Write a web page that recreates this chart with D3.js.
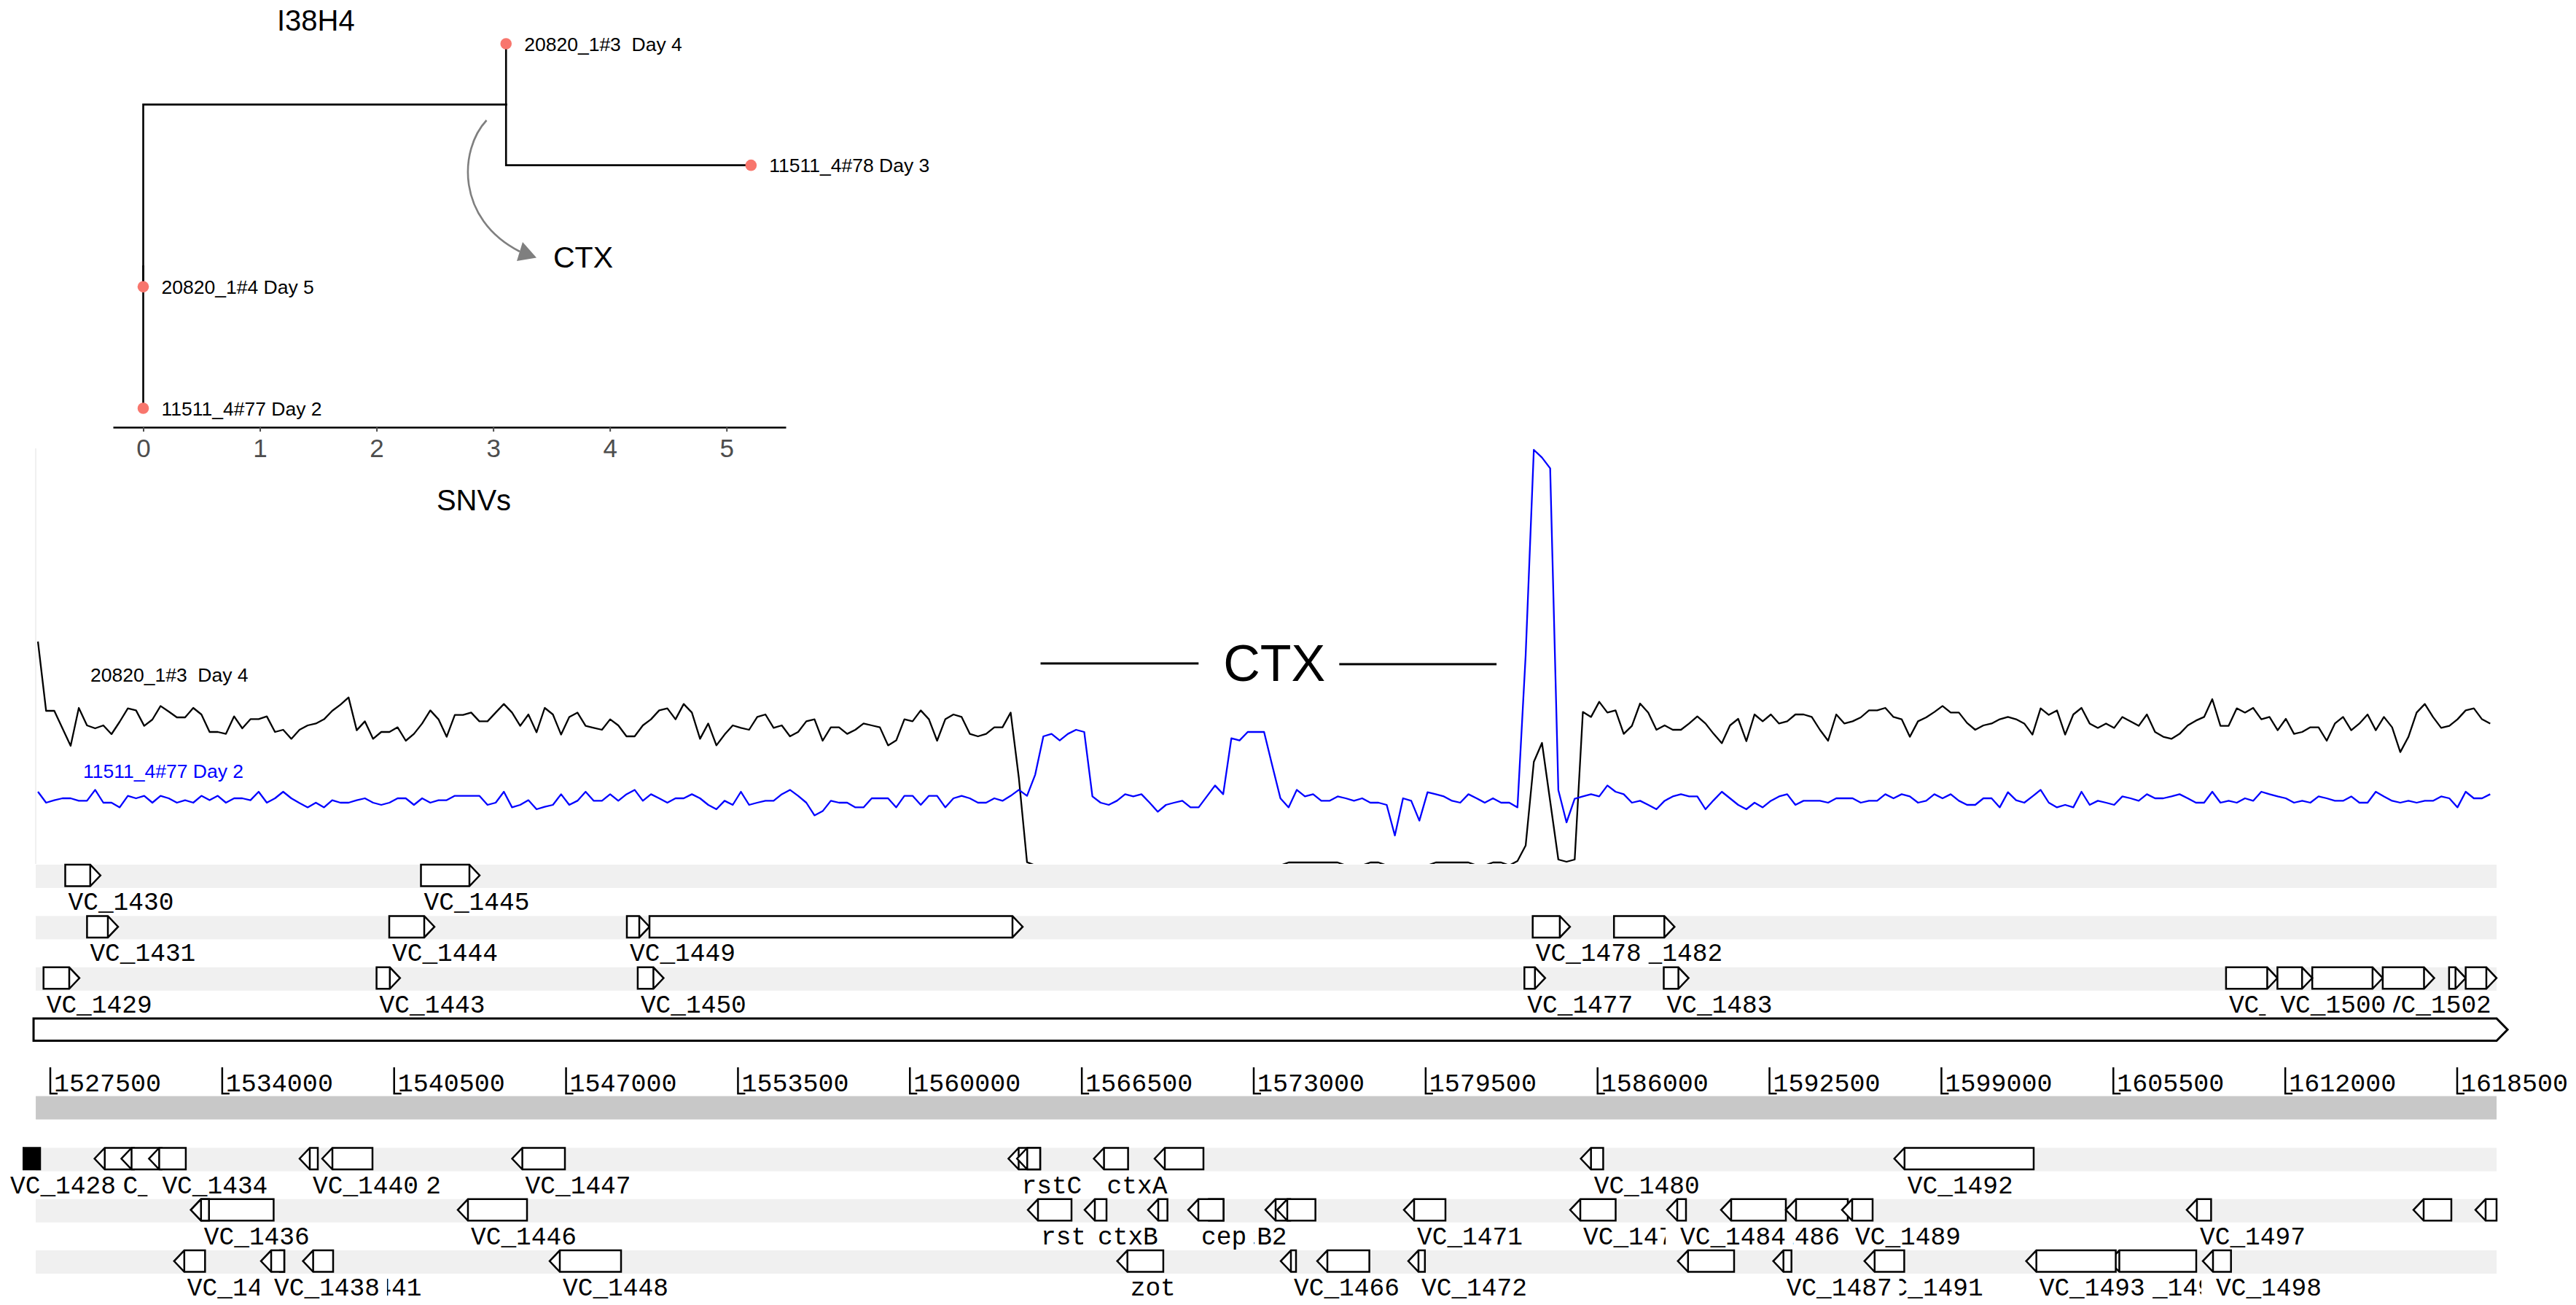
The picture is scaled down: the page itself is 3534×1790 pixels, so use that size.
<!DOCTYPE html>
<html>
<head>
<meta charset="utf-8">
<script src="https://cdn.jsdelivr.net/npm/d3@7"></script>
<style>
  html, body { margin: 0; padding: 0; background: #fff; }
  svg { display: block; }
</style>
</head>
<body>
<svg id="chart" width="3534" height="1790"></svg>
<script>
// ---------------- tree ----------------
const treeTitle = "I38H4";
const treeTipLabels = ["20820_1#3  Day 4", "11511_4#78 Day 3", "20820_1#4 Day 5", "11511_4#77 Day 2"];
const treeTipSNVs   = [3.11, 5.21, 0, 0];
const treeTipRank   = [4, 3, 2, 1];
const treeTipParent = ["clade", "clade", "root", "root"];
const treeNodeNames  = ["root", "clade"];
const treeNodeSNVs   = [0, 3.11];
const treeNodeParent = [null, "root"];
const snvTicks = [0, 1, 2, 3, 4, 5];
const treeAxisTitle = "SNVs";
const treeEventLabel = "CTX";

// ---------------- read depth along the region (301 bins) ----------------
const coverageNames = ["20820_1#3  Day 4", "11511_4#77 Day 2"];
const depthDay4 = [
  153.5,106,106,94,82,108,96,94,96,90,98.5,107.7,106.3,95.7,100,109.3,105.5,101.5,101.5,108,
  103.5,91.5,91.5,90.2,102.2,94,100.3,100.3,102.2,91.5,93,86.8,93,96,97.3,100.2,106,110.2,115.2,92.7,
  98.8,86.8,91.5,91.5,94.7,85.5,90.2,97.3,106.3,100.2,88.2,103.2,103.2,104.8,98.8,98.8,104.8,110.7,104.8,95.7,
  103.5,91.3,108,103.5,89.7,101.8,104.8,95.7,94.3,93,100.2,96,88.5,88.5,96,100.2,106.3,107.7,100.2,110.7,
  104.8,86.8,97.3,82.3,89.7,96,94.3,93,101.8,103.5,94.3,96,88.5,91.5,98.8,100.2,85.5,94.7,94.7,90.2,
  93,97.3,96,94.7,82.3,85.7,100.2,98.8,106.3,100.2,85.5,100.2,103.5,101.8,90.2,88.5,90.2,94.7,94.7,104.8,
  60,2.2,0,0,0,0,0,0,0,0,0,0,0,0,0,0,0,0,0,0,
  0,0,0,0,0,0,0,0,0,0,0,0,0,2,2,2,2,2,2,2,
  0,0,0,2,2,0,0,0,0,0,0,2,2,2,2,2,0,0,2,2,
  0,3,13.6,71,84,44,4,2.5,4,105.2,101.8,112.2,104.8,106.3,90.2,95.7,111,104.8,93,96,
  93,93,97.3,102.2,97.3,90.2,83.8,96,100.5,85.2,103.5,98.8,103.5,97.3,98.8,103.5,103.5,101.8,93,85.5,
  103.5,97.3,98.8,101.5,106.3,106.3,108,101.8,100.2,88.2,98.8,101.5,105.2,109.3,104.8,104.8,97.7,93,96,97.3,
  100.2,101.8,100.2,97.3,89.7,107.7,103.2,106.3,89.7,103.5,108,97.3,94.3,97.3,94.3,101.8,98.8,95.7,103.5,91.5,
  88.2,86.8,90.2,96,99.3,101.8,114,95.7,95.7,107.7,104.8,108,100.2,101.8,92.7,100.5,90.2,91.5,94.7,94.7,
  85.5,97.3,101.8,92.7,97.3,103.5,92.7,101.8,94.7,77.7,88.2,104.8,110.7,101.8,94.3,95.7,100.2,106.3,107.7,100.2,
  97.3
];
const depthDay2 = [
  50.5,43,44.7,46,46,44.3,44.3,51.8,43,43,39.8,47.7,46,47.7,43,47.7,46,43,44.7,43,
  47.7,44.7,47.7,43,46,46,44.7,50.5,43,46,50.5,46,42.7,39.8,43,39.8,44.7,43,43,44.7,
  46,43,41.5,43,46,46,41.5,46,43,44.7,44.7,47.7,47.7,47.7,47.7,41.5,43,50.5,39.8,41.5,
  44.7,38.5,40.2,41.5,48.8,41.5,44.3,50.5,44.3,44.3,48.8,44.3,48.8,51.8,44.3,48.8,46,43,46,46,
  48.8,46,41.5,38.5,44.3,41.5,50.5,41.5,43,44.3,44.3,48.8,51.8,47.7,43,34.3,37.2,44.3,43,43,
  39.8,39.8,46,46,46,39.8,47.7,47.7,41.5,47.7,47.7,39.8,46,47.7,46,43,43,46,44.3,47.7,
  51.8,47.7,62.2,88.5,90.2,85.7,90.2,93,91.5,47.3,43,41.5,44.3,48.8,47.3,48.8,43,36.8,41.5,43,
  44.3,39.8,39.8,47.3,54.8,48.8,87.2,85.7,91.5,91.5,91.5,68.5,46,39.8,51.8,47.3,48.8,44.3,44.3,47.3,
  46,44.3,46,43,43,41.5,20.5,46,44.3,30.7,50.2,48.8,47.3,44.3,43,48.8,46,43,46,43,
  43,39.8,144,285,279.7,272.3,51.6,29.5,45.7,47.3,48.8,47.3,54.8,50.5,48.8,43,44.3,41.5,38.5,44.3,
  47.3,48.8,47.3,47.3,38.5,44.7,50.5,46,41.5,38.5,43,39.8,44.3,47.3,48.8,41.5,44.3,44.3,44.3,43,
  46,46,46,43,44.3,44.3,48.8,46,48.8,47.3,43,44.3,48.8,46,48.8,44.3,41.5,41.5,46,46,
  39.8,50.2,44.7,43,47.3,51.8,43,39.8,41.5,39.8,50.5,41.5,44.3,43,41.5,47.3,46,44.3,48.8,46,
  46,47.3,48.8,46,43,43,50.5,43,44.3,43,46,44.3,50.5,48.8,47.3,46,43,44.3,43,47.3,
  46,44.3,44.3,47.3,43,43,50.5,47.3,44.3,43,44.3,43,44.3,44.3,47.3,46,39.8,50.5,46,46,
  48.8
];
const ctxRegion = [1564940, 1582180];
const ctxLabel = "CTX";

// ---------------- genome annotation ----------------
const regionSpan = [1526950, 1619990];
const axisTicks = [1527500,1534000,1540500,1547000,1553500,1560000,1566500,1573000,
                   1579500,1586000,1592500,1599000,1605500,1612000,1618500];

// forward-strand genes (row 0 = top); labels are drawn in this order
const fwdNames = ["VC_1430","VC_1445",
                  "VC_1431","VC_1444","VC_1449","","VC_1482","VC_1478",
                  "VC_1429","VC_1443","VC_1450","VC_1477","VC_1483","VC_1499","","VC_1502","VC_1500","",""];
const fwdStart = [1528065,1541514,
                  1528889,1540315,1549299,1550154,1586620,1583547,
                  1527244,1539835,1549710,1583233,1588502,1609761,1613021,1615686,1611704,1618194,1618822];
const fwdEnd   = [1529396,1543732,
                  1530063,1542024,1550154,1564264,1588910,1584958,
                  1528602,1540723,1550688,1584018,1589442,1611704,1615686,1617632,1613021,1618822,1619988];
const fwdRow   = [0,0, 1,1,1,1,1,1, 2,2,2,2,2,2,2,2,2,2,2];

// reverse-strand genes (row 0 = just below the scale); labels are drawn in this order
const revNames = ["VC_1432","","VC_1434","VC_1428","VC_1442","VC_1440","VC_1447","rstC","","ctxA","","VC_1480","VC_1492",
                  "VC_1436","","VC_1446","rstA","ctxB","","rstB2","cep","","","VC_1471","VC_1479","VC_1486","","VC_1484","VC_1489","VC_1497","","",
                  "VC_1435","VC_1441","","VC_1438","VC_1448","zot","","VC_1466","VC_1472","","VC_1491","VC_1487","VC_1495","VC_1493","VC_1498"];
const revStart = [1529173,1530187,1531231,1525488,1537780,1536925,1544961,1563726,1564050,1566953,1569252,1585365,1597219,
                  1532813,1532813,1542905,1564457,1566606,1569004,1570906,1570520,1573441,1573882,1578677,1584961,1590665,1593118,1588626,1595240,1608275,1616846,1619189,
                  1532180,1537052,1535787,1535465,1546378,1567838,1575398,1574020,1578842,1589034,1596089,1592641,1605340,1602204,1608882];
const revEnd   = [1530661,1531706,1532623,1527114,1539681,1537614,1546957,1564925,1564925,1568249,1571098,1586212,1602488,
                  1535944,1533500,1545524,1566110,1567433,1569737,1571856,1571856,1574378,1575332,1580248,1586683,1593118,1595460,1589342,1596398,1609196,1618279,1619988,
                  1533351,1538193,1536346,1536346,1549079,1569580,1577371,1574598,1579471,1591161,1597594,1593330,1608634,1605591,1609948];
const revRow   = [0,0,0,0,0,0,0,0,0,0,0,0,0,
                  1,1,1,1,1,1,1,1,1,1,1,1,1,1,1,1,1,1,1,
                  2,2,2,2,2,2,2,2,2,2,2,2,2,2,2];
const revFilled = ["VC_1428"];

// ---------------- drawing ----------------
const svg = d3.select("#chart");
const sans = "'Liberation Sans', Arial, Helvetica, sans-serif";
const mono = "'Liberation Mono', 'Courier New', monospace";

// --- tree panel ---
const tx = d3.scaleLinear().domain([0, 5]).range([196.5, 996.7]);
const ty = d3.scaleLinear().domain([1, 4]).range([560, 60]);
const tree = svg.append("g");

const nodeX = {}, nodeRank = {};
treeNodeNames.forEach((n, i) => nodeX[n] = treeNodeSNVs[i]);
// internal node heights: mean of their children
function rankOf(n) {
  if (nodeRank[n] !== undefined) return nodeRank[n];
  const kids = [];
  treeTipParent.forEach((p, i) => { if (p === n) kids.push(treeTipRank[i]); });
  treeNodeParent.forEach((p, i) => { if (p === n) kids.push(rankOf(treeNodeNames[i])); });
  nodeRank[n] = d3.mean(kids);
  return nodeRank[n];
}
treeNodeNames.forEach(rankOf);

const edges = [];
treeNodeParent.forEach((p, i) => { if (p) edges.push({p, x: treeNodeSNVs[i], r: nodeRank[treeNodeNames[i]]}); });
treeTipParent.forEach((p, i) => edges.push({p, x: treeTipSNVs[i], r: treeTipRank[i]}));

tree.selectAll("path.branch").data(edges).join("path")
  .attr("class", "branch")
  .attr("d", e => `M${tx(nodeX[e.p])},${ty(nodeRank[e.p])}V${ty(e.r)}H${tx(e.x)}`)
  .attr("fill", "none").attr("stroke", "#000").attr("stroke-width", 2.6)
  .attr("stroke-linecap", "square");

tree.selectAll("circle.tip").data(treeTipLabels).join("circle")
  .attr("cx", (d, i) => tx(treeTipSNVs[i])).attr("cy", (d, i) => ty(treeTipRank[i]))
  .attr("r", 7.8).attr("fill", "#F8766D");

tree.selectAll("text.tip").data(treeTipLabels).join("text")
  .attr("x", (d, i) => tx(treeTipSNVs[i]) + 25).attr("y", (d, i) => ty(treeTipRank[i]))
  .attr("dy", "0.36em").attr("font-family", sans).attr("font-size", 26.5)
  .style("white-space", "pre")
  .text(d => d);

tree.append("text").attr("x", 380).attr("y", 42)
  .attr("font-family", sans).attr("font-size", 40).text(treeTitle);

// x axis of the tree
const axisScale = d3.scaleLinear().domain([tx.invert(155), tx.invert(1078)]).range([155, 1078]);
const ax = tree.append("g").attr("transform", "translate(0,586)")
  .call(d3.axisBottom(axisScale).tickValues(snvTicks).tickFormat(d3.format("d"))
        .tickSize(6).tickSizeOuter(0).tickPadding(10));
ax.select(".domain").attr("stroke", "#000").attr("stroke-width", 2.4);
ax.selectAll(".tick line").attr("stroke", "#4d4d4d").attr("stroke-width", 2);
ax.selectAll(".tick text").attr("fill", "#4d4d4d").attr("font-family", sans).attr("font-size", 35);
tree.append("text").attr("x", 650).attr("y", 700).attr("text-anchor", "middle")
  .attr("font-family", sans).attr("font-size", 40).text(treeAxisTitle);

// curved arrow to the CTX event
tree.append("path")
  .attr("d", "M667.5,165 C630,205 625,300 713,345")
  .attr("fill", "none").attr("stroke", "#7f7f7f").attr("stroke-width", 2.6);
tree.append("path")
  .attr("d", "M736,353.5 L717,332 L709,358 Z").attr("fill", "#7f7f7f");
tree.append("text").attr("x", 759).attr("y", 367)
  .attr("font-family", sans).attr("font-size", 41).text(treeEventLabel);

// --- depth panel ---
const cx = d3.scaleLinear().domain([0, depthDay4.length - 1]).range([52.05, 3416.3]);
const cy = d3.scaleLinear().domain([0, 285]).range([1187, 617]);
svg.append("clipPath").attr("id", "depthClip")
  .append("rect").attr("x", 0).attr("y", 560).attr("width", 3534).attr("height", 625);
svg.append("line").attr("x1", 49).attr("x2", 49).attr("y1", 615).attr("y2", 1185)
  .attr("stroke", "#f0f0f0").attr("stroke-width", 2);

const depthLine = d3.line().x((d, i) => cx(i)).y(d => cy(d));
const depth = svg.append("g").attr("clip-path", "url(#depthClip)");
depth.append("path").datum(depthDay4).attr("d", depthLine)
  .attr("fill", "none").attr("stroke", "#000").attr("stroke-width", 2.3).attr("stroke-linejoin", "round");
depth.append("path").datum(depthDay2).attr("d", depthLine)
  .attr("fill", "none").attr("stroke", "#0000ff").attr("stroke-width", 2.3).attr("stroke-linejoin", "round");

svg.append("text").attr("x", 124).attr("y", 935).attr("font-family", sans).attr("font-size", 26.5)
  .style("white-space", "pre").text(coverageNames[0]);
svg.append("text").attr("x", 114).attr("y", 1066.5).attr("font-family", sans).attr("font-size", 26.5)
  .attr("fill", "#0000ff").text(coverageNames[1]);

// --- genome coordinate scale and gene tracks ---
const gx = d3.scaleLinear().domain([axisTicks[0], axisTicks[axisTicks.length - 1]]).range([69, 3371]);

// CTX bracket above the depth curves
const ctxMid = (gx(ctxRegion[0]) + gx(ctxRegion[1])) / 2 + 8;
const ctxText = svg.append("text").attr("x", ctxMid).attr("y", 934).attr("text-anchor", "middle")
  .attr("font-family", sans).attr("font-size", 70).text(ctxLabel);
const ctxW = ctxText.node().getComputedTextLength();
svg.append("line").attr("x1", gx(ctxRegion[0])).attr("x2", ctxMid - ctxW / 2 - 34)
  .attr("y1", 910).attr("y2", 910).attr("stroke", "#000").attr("stroke-width", 3);
svg.append("line").attr("x1", ctxMid + ctxW / 2 + 19).attr("x2", gx(ctxRegion[1]))
  .attr("y1", 911).attr("y2", 911).attr("stroke", "#000").attr("stroke-width", 3);

const fwdTop = [1186, 1256.4, 1326.8];
const revTop = [1574.5, 1644.8, 1715.1];
const bandH = 32, geneH = 29.5, tipLen = 14;
const tracks = svg.append("g");

// light bands behind each row
tracks.selectAll("rect.band").data(fwdTop.concat(revTop)).join("rect")
  .attr("x", gx(regionSpan[0])).attr("width", gx(regionSpan[1]) - gx(regionSpan[0]))
  .attr("y", d => d).attr("height", bandH).attr("fill", "#f0f0f0");
// scale band
tracks.append("rect").attr("x", gx(regionSpan[0])).attr("width", gx(regionSpan[1]) - gx(regionSpan[0]))
  .attr("y", 1503.5).attr("height", 32).attr("fill", "#c8c8c8");

function arrowPath(x0, x1, top, h, forward) {
  const t = Math.min(tipLen, x1 - x0);
  const m = top + h / 2, b = top + h;
  if (forward) {
    return `M${x0},${top}H${x1 - t}L${x1},${m}L${x1 - t},${b}H${x0}Z M${x1 - t},${top}V${b}`;
  }
  return `M${x1},${top}H${x0 + t}L${x0},${m}L${x0 + t},${b}H${x1}Z M${x0 + t},${top}V${b}`;
}

const fwdGenes = fwdNames.map((n, i) => ({name: n, s: fwdStart[i], e: fwdEnd[i], top: fwdTop[fwdRow[i]], fwd: true}));
const revGenes = revNames.map((n, i) => ({name: n, s: revStart[i], e: revEnd[i], top: revTop[revRow[i]], fwd: false}));
const genes = fwdGenes.concat(revGenes);

// genes reaching past the left end of the view are cut at the view edge
svg.append("clipPath").attr("id", "geneView")
  .append("rect").attr("x", 31).attr("y", 1100).attr("width", 3503).attr("height", 690);
tracks.append("g").attr("clip-path", "url(#geneView)")
  .selectAll("path.gene").data(genes).join("path")
  .attr("class", "gene")
  .attr("d", g => arrowPath(gx(g.s), gx(g.e), g.top, geneH, g.fwd))
  .attr("fill", g => revFilled.includes(g.name) && !g.fwd ? "#000" : "#fff")
  .attr("stroke", "#000").attr("stroke-width", 2.5).attr("stroke-linejoin", "miter");

// gene labels: each sits on a white plate, later labels cover earlier ones
genes.filter(g => g.name).forEach(g => {
  const x = gx(g.s) + (g.fwd ? 4 : 18);
  const yb = g.top + 62;
  const grp = tracks.append("g");
  const rect = grp.append("rect").attr("fill", "#fff");
  const t = grp.append("text").attr("x", x).attr("y", yb)
    .attr("font-family", mono).attr("font-size", 34.5).text(g.name);
  const w = t.node().getComputedTextLength();
  rect.attr("x", x - 20).attr("y", yb - 26).attr("width", w + 30).attr("height", 31);
});

// whole-region feature (drawn after the labels so their plates never cut its outline)
tracks.append("path")
  .attr("d", (() => { const x0 = gx(regionSpan[0]) - 3, x1 = gx(regionSpan[1]) + 15, top = 1397, h = 30.5;
    return `M${x0},${top}H${x1 - 15}L${x1},${top + h / 2}L${x1 - 15},${top + h}H${x0}Z`; })())
  .attr("fill", "#fff").attr("stroke", "#000").attr("stroke-width", 3);

// coordinate ticks
const ticks = tracks.selectAll("g.tick").data(axisTicks).join("g")
  .attr("class", "tick").attr("transform", d => `translate(${gx(d)},0)`);
ticks.append("path").attr("d", "M0,1464V1500H10").attr("fill", "none")
  .attr("stroke", "#000").attr("stroke-width", 2.5);
ticks.append("text").attr("x", 5).attr("y", 1497)
  .attr("font-family", mono).attr("font-size", 35).text(d => d);
</script>
</body>
</html>
